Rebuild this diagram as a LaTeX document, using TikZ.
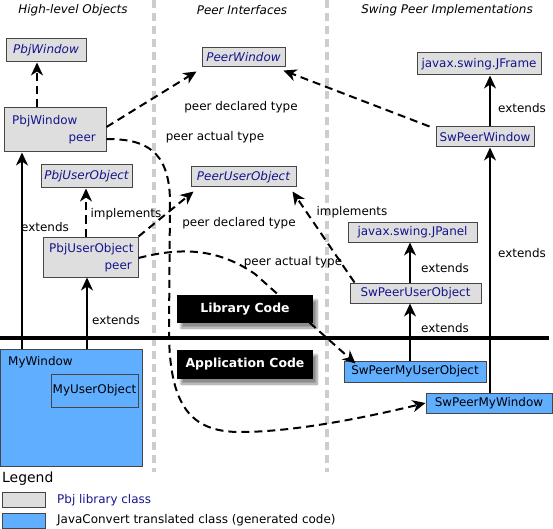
\documentclass[tikz,border=0pt]{standalone}
\usepackage{fontspec}
\setmainfont{DejaVu Sans}
\usetikzlibrary{arrows.meta,fit,shadows.blur}
\definecolor{navy}{RGB}{20,20,140}
\definecolor{libfill}{RGB}{222,222,222}
\definecolor{genfill}{RGB}{96,174,255}
\definecolor{boxline}{RGB}{70,70,70}
\definecolor{sepgray}{RGB}{205,205,205}
\begin{document}
\begin{tikzpicture}[x=1bp,y=-1bp,
  font=\fontsize{12}{14}\selectfont,
  tip/.style={-{Stealth[length=13bp,width=12bp,inset=4bp]}},
  solidarrow/.style={tip,line width=2bp,black},
  dasharrow/.style={tip,line width=2bp,black,dash pattern=on 8bp off 5bp},
  libbox/.style={draw=boxline,fill=libfill,line width=1bp,inner sep=0pt},
  genbox/.style={draw=boxline,fill=genfill,line width=1bp,inner sep=0pt},
  libtext/.style={text=navy,inner sep=0pt},
  libital/.style={text=navy,inner sep=0pt,font=\fontsize{12}{14}\selectfont\itshape},
  gentext/.style={text=black,inner sep=0pt},
  codebox/.style={fill=black,inner sep=0pt,
    blur shadow={shadow xshift=4bp,shadow yshift=-5bp,shadow blur steps=8,shadow opacity=45}},
  codetext/.style={text=white,font=\fontsize{12.5}{14}\selectfont\bfseries,inner sep=0pt},
  lbl/.style={inner sep=1pt,text=black},
  hdr/.style={inner sep=0pt,font=\fontsize{12}{14}\selectfont\itshape},
  sep/.style={line width=4bp,sepgray,dash pattern=on 8bp off 5bp}
]
\useasboundingbox (0,0) rectangle (553,529);
% separators
\draw[sep] (154,0) -- (154,472);
\draw[sep] (327,0) -- (327,472);
% headers
\node[hdr] (h1) at (73,10) {High-level Objects};
\node[hdr] (h2) at (242,10) {Peer Interfaces};
\node[hdr] (h3) at (447,10) {Swing Peer Implementations};
% library/application divider
\draw[line width=4bp] (0,338) -- (549,338);
% boxes
\node[libbox,fit={(6,39) (86,62)}] (pbjw) {};
\node[libital] (pbjwt) at (pbjw.center) {PbjWindow};
\node[libbox,fit={(202,48) (285,67)}] (peerw) {};
\node[libital] (peerwt) at (peerw.center) {PeerWindow};
\node[libbox,fit={(417,53) (541,75)}] (jframe) {};
\node[libtext] (jframet) at (jframe.center) {javax.swing.JFrame};
\node[libbox,fit={(4,108) (106,152)}] (pbjwp) {};
\node[libtext,anchor=west] (pbjwpa) at (12,121) {PbjWindow};
\node[libtext,anchor=east] (pbjwpb) at (96,139) {peer};
\node[libbox,fit={(436,127) (534,147)}] (swpw) {};
\node[libtext] (swpwt) at (swpw.center) {SwPeerWindow};
\node[libbox,fit={(41,165) (132,188)}] (pbjuo) {};
\node[libital] (pbjuot) at (pbjuo.center) {PbjUserObject};
\node[libbox,fit={(191,167) (296,187)}] (peeruo) {};
\node[libital] (peeruot) at (peeruo.center) {PeerUserObject};
\node[libbox,fit={(348,222) (477,242)}] (jpanel) {};
\node[libtext] (jpanelt) at (jpanel.center) {javax.swing.JPanel};
\node[libbox,fit={(43,237) (138,277)}] (pbjuop) {};
\node[libtext,anchor=west] (pbjuopa) at (49,249) {PbjUserObject};
\node[libtext,anchor=east] (pbjuopb) at (132,267) {peer};
\node[libbox,fit={(350,283) (481,303)}] (swpuo) {};
\node[libtext] (swpuot) at (swpuo.center) {SwPeerUserObject};
\node[genbox,fit={(0,349) (142,466)}] (mywin) {};
\node[gentext,anchor=west] (mywint) at (8,362) {MyWindow};
\node[genbox,fit={(51,374) (138,407)}] (myuo) {};
\node[gentext] (myuot) at (myuo.center) {MyUserObject};
\node[genbox,fit={(344,361) (486,382)}] (swpmuo) {};
\node[gentext] (swpmuot) at (swpmuo.center) {SwPeerMyUserObject};
\node[genbox,fit={(426,393) (552,413)}] (swpmw) {};
\node[gentext] (swpmwt) at (swpmw.center) {SwPeerMyWindow};
% coordinates for connector ends
\coordinate (a1s) at (22,349);
\coordinate (a2s) at (87,349);
% solid arrows
\draw[solidarrow] (a1s) -- (pbjwp.south -| a1s);
\draw[solidarrow] (a2s) -- (pbjuop.south -| a2s);
\draw[solidarrow] (swpw.north -| 490,0) -- (jframe.south -| 490,0);
\draw[solidarrow] (swpmw.north -| 490,0) -- (swpw.south -| 490,0);
\draw[solidarrow] (swpuo.north -| 410,0) -- (jpanel.south -| 410,0);
\draw[solidarrow] (swpmuo.north -| 410,0) -- (swpuo.south -| 410,0);
% dashed arrows
\draw[dasharrow] (pbjwp.north -| 37,0) -- (pbjw.south -| 37,0);
\draw[dasharrow] (pbjuop.north -| 86,0) -- (pbjuo.south -| 86,0);
\draw[dasharrow] (pbjwp.east |- 0,127) -- ([shift={(-5bp,-4bp)}]peerw.south west);
\draw[dasharrow] (pbjuop.north east) -- ([shift={(3bp,-4bp)}]peeruo.south west);
\draw[dasharrow] ([xshift=-6bp]swpw.north west) -- ([shift={(-2bp,-3bp)}]peerw.south east);
\draw[dasharrow] ([xshift=5bp]swpuo.north west) -- ([shift={(-4bp,-4bp)}]peeruo.south east);
\draw[dasharrow] (pbjwp.east |- 0,139) .. controls (145,139) and (169,150) .. (170,200)
  -- (169,330) .. controls (169,405) and (190,432) .. (240,432)
  .. controls (300,432) and (380,414) .. (swpmw.west);
\draw[dasharrow] (pbjuop.east |- 0,258) .. controls (185,246) and (220,250) .. (255,274)
  -- ([shift={(12bp,-3bp)}]swpmuo.north west);
% code boxes (on top of connectors)
\node[codebox,fit={(177,295) (313,323)}] (libcode) {};
\node[codetext] (libcodet) at (libcode.center) {Library Code};
\node[codebox,fit={(177,350) (313,379)}] (appcode) {};
\node[codetext] (appcodet) at (appcode.center) {Application Code};
% labels
\node[lbl] (l1) at (45,227) {extends};
\node[lbl] (l2) at (116,320) {extends};
\node[lbl] (l3) at (126,214) {implements};
\node[lbl] (l4) at (241,107) {peer declared type};
\node[lbl] (l5) at (215,137) {peer actual type};
\node[lbl] (l6) at (239,223) {peer declared type};
\node[lbl] (l7) at (293,262) {peer actual type};
\node[lbl] (l8) at (352,212) {implements};
\node[lbl] (l9) at (522,108) {extends};
\node[lbl] (l10) at (522,253) {extends};
\node[lbl] (l11) at (445,268) {extends};
\node[lbl] (l12) at (445,328) {extends};
% legend
\node[anchor=west,inner sep=0pt,font=\fontsize{14}{16}\selectfont] (leg) at (2,479) {Legend};
\node[libbox,fit={(2,492) (45,507)}] (legl) {};
\node[genbox,fit={(2,513) (45,528)}] (legg) {};
\node[libtext,anchor=west] (leglt) at (57,500) {Pbj library class};
\node[gentext,anchor=west] (leggt) at (57,520) {JavaConvert translated class (generated code)};
\end{tikzpicture}
\end{document}
